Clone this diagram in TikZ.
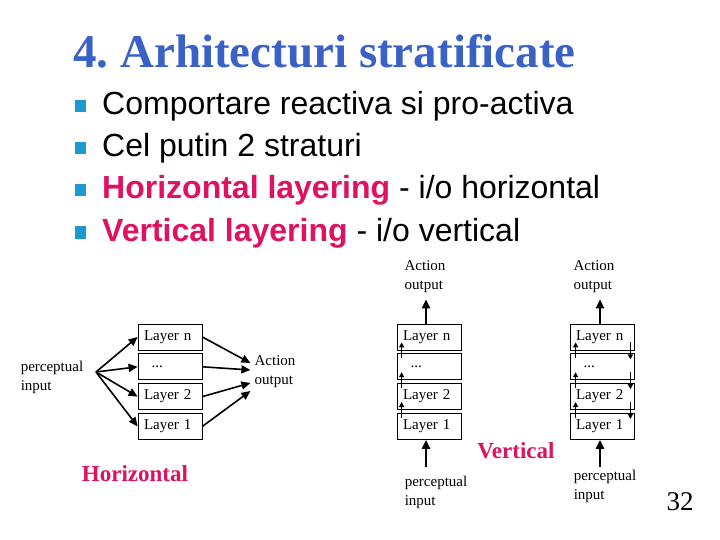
\documentclass[tikz,border=0pt]{standalone}
\usepackage{fontspec}
\setmainfont{Liberation Serif}
\newfontfamily\arialfont{Liberation Sans}
\usepackage{xcolor}
\definecolor{ttlblue}{HTML}{3A62C6}
\definecolor{bulcyan}{HTML}{1C9AD0}
\definecolor{hotpink}{HTML}{DE1260}
\usetikzlibrary{arrows.meta,positioning,calc}

\begin{document}
\begin{tikzpicture}[x=1pt,y=-1pt,>={Triangle[length=9pt,width=8pt]},node distance=3pt]
\tikzset{
 layerbox/.style={draw,line width=0.8pt,minimum width=64pt,minimum height=26pt,text width=52pt,inner xsep=6pt,inner ysep=2pt,align=left,font=\fontsize{15}{15}\selectfont},
 lbl/.style={align=left,inner sep=0pt,font=\fontsize{15}{19}\selectfont},
 bullet/.style={fill=bulcyan,minimum width=11pt,minimum height=12pt,inner sep=0pt},
 item/.style={anchor=base west,inner sep=0pt,font=\arialfont\fontsize{32}{32}\selectfont},
 caption/.style={text=hotpink,inner sep=0pt,font=\bfseries\fontsize{23}{23}\selectfont},
 arrow/.style={->,line width=1.6pt},
 bigarrow/.style={->,line width=2.3pt},
 tiny/.style={-{Triangle[length=5pt,width=5pt]},line width=1.6pt}
}
\useasboundingbox (0,0) rectangle (720,540);
% title and bullets
\node[anchor=base west,inner sep=0pt,text=ttlblue,font=\bfseries\fontsize{47}{47}\selectfont] (title) at (73,68) {4.\ Arhitecturi stratificate};
\node[item] (b1) at (102,115) {Comportare reactiva si pro-activa};
\node[item] (b2) at (102,157) {Cel putin 2 straturi};
\node[item] (b3) at (102,199) {\textcolor{hotpink}{\bfseries Horizontal layering} - i/o horizontal};
\node[item] (b4) at (102,241) {\textcolor{hotpink}{\bfseries Vertical layering} - i/o vertical};
\foreach \i in {1,...,4}
 \node[bullet] (m\i) at ($(b\i.base west)+(-22,-8.5)$) {};
% horizontal layering
\node[layerbox] (hn) at (170,337) {Layer n};
\node[layerbox,below=of hn] (hd) {\ \,...};
\node[layerbox,below=of hd] (h2) {Layer 2};
\node[layerbox,below=of h2] (h1) {Layer 1};
\node[lbl] (hin) at (52,377) {perceptual\\input};
\coordinate (hsrc) at (96,372);
\node[lbl] (hout) at (275,372) {Action\\output};
\foreach \b in {hn,hd,h2,h1}
 \draw[arrow] (hsrc) -- (\b.west);
\foreach \b/\dy in {hn/-9,hd/-2,h2/11,h1/19}
 \draw[arrow] (\b.east) -- ($(hout.west)+(-4,\dy)$);
\node[caption] (hcap) at (135,474) {Horizontal};
% vertical layering, one pass
\node[layerbox] (van) at (429,337) {Layer n};
\node[layerbox,below=of van] (vad) {\ \,...};
\node[layerbox,below=of vad] (va2) {Layer 2};
\node[layerbox,below=of va2] (va1) {Layer 1};
\node[lbl] (vaout) at (425,277) {Action\\output};
\node[lbl] (vain) at (436,492) {perceptual\\input};
\draw[bigarrow,shorten >=6pt] (van.north -| 426,0) -- (vaout.south -| 426,0);
\draw[bigarrow,shorten <=9pt] (vain.north -| 426,0) -- (va1.south -| 426,0);
\foreach \lo/\up in {vad/van,va2/vad,va1/va2}
 \draw[tiny] ([xshift=5pt,yshift=-5pt]\lo.north west) -- ([xshift=5pt,yshift=8pt]\up.south west);
% vertical layering, two pass
\node[layerbox] (vbn) at (602,337) {Layer n};
\node[layerbox,below=of vbn] (vbd) {\ \,...};
\node[layerbox,below=of vbd] (vb2) {Layer 2};
\node[layerbox,below=of vb2] (vb1) {Layer 1};
\node[lbl] (vbout) at (594,277) {Action\\output};
\node[lbl] (vbin) at (605,486) {perceptual\\input};
\draw[bigarrow,shorten >=6pt] (vbn.north -| 600,0) -- (vbout.south -| 600,0);
\draw[bigarrow,shorten <=3pt] (vbin.north -| 600,0) -- (vb1.south -| 600,0);
\foreach \lo/\up in {vbd/vbn,vb2/vbd,vb1/vb2}
 \draw[tiny] ([xshift=6pt,yshift=-5pt]\lo.north west) -- ([xshift=6pt,yshift=8pt]\up.south west);
\foreach \up/\lo in {vbn/vbd,vbd/vb2,vb2/vb1}
 \draw[tiny] ([xshift=-4pt,yshift=8pt]\up.south east) -- ([xshift=-4pt,yshift=-6pt]\lo.north east);
\node[caption] (vcap) at (516,451) {Vertical};
\node[inner sep=0pt,font=\fontsize{27}{27}\selectfont] (pnum) at (680,502) {32};
\end{tikzpicture}
\end{document}
